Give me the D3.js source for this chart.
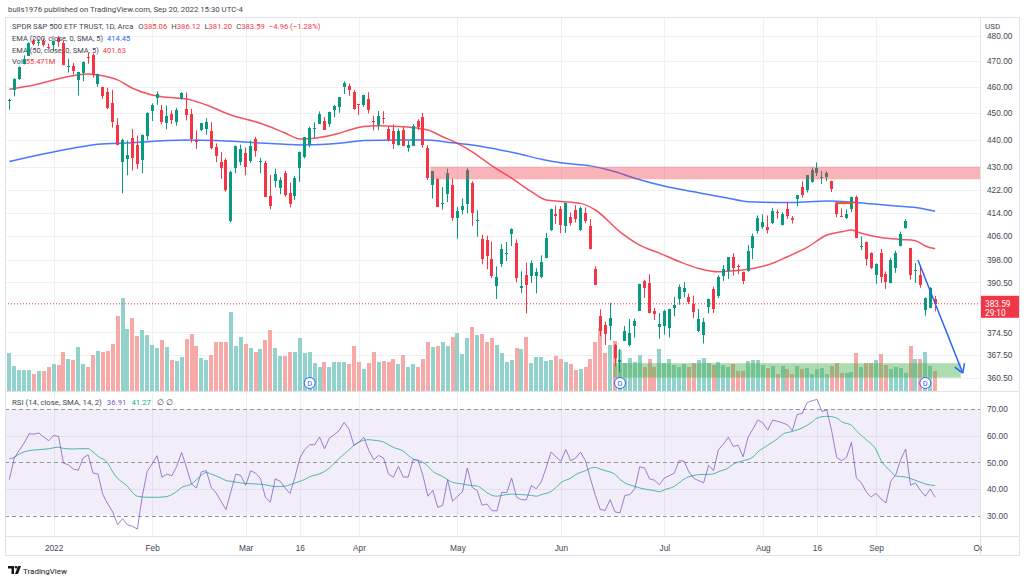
<!DOCTYPE html>
<html><head><meta charset="utf-8">
<script src="https://cdn.jsdelivr.net/npm/d3@7"></script>
<style>
body{margin:0;background:#fff;}
svg{display:block;font-family:Roboto,"Liberation Sans",Arial,sans-serif;}
</style></head>
<body><svg id="c" width="1024" height="580"></svg>
<script>
// ---------------- DATA ----------------
const dates = ["2021-12-20","2021-12-21","2021-12-22","2021-12-23","2021-12-27","2021-12-28","2021-12-29","2021-12-30","2021-12-31",
"2022-01-03","2022-01-04","2022-01-05","2022-01-06","2022-01-07","2022-01-10","2022-01-11","2022-01-12","2022-01-13","2022-01-14","2022-01-18","2022-01-19","2022-01-20","2022-01-21","2022-01-24","2022-01-25","2022-01-26","2022-01-27","2022-01-28","2022-01-31",
"2022-02-01","2022-02-02","2022-02-03","2022-02-04","2022-02-07","2022-02-08","2022-02-09","2022-02-10","2022-02-11","2022-02-14","2022-02-15","2022-02-16","2022-02-17","2022-02-18","2022-02-22","2022-02-23","2022-02-24","2022-02-25","2022-02-28",
"2022-03-01","2022-03-02","2022-03-03","2022-03-04","2022-03-07","2022-03-08","2022-03-09","2022-03-10","2022-03-11","2022-03-14","2022-03-15","2022-03-16","2022-03-17","2022-03-18","2022-03-21","2022-03-22","2022-03-23","2022-03-24","2022-03-25","2022-03-28","2022-03-29","2022-03-30","2022-03-31",
"2022-04-01","2022-04-04","2022-04-05","2022-04-06","2022-04-07","2022-04-08","2022-04-11","2022-04-12","2022-04-13","2022-04-14","2022-04-18","2022-04-19","2022-04-20","2022-04-21","2022-04-22","2022-04-25","2022-04-26","2022-04-27","2022-04-28","2022-04-29",
"2022-05-02","2022-05-03","2022-05-04","2022-05-05","2022-05-06","2022-05-09","2022-05-10","2022-05-11","2022-05-12","2022-05-13","2022-05-16","2022-05-17","2022-05-18","2022-05-19","2022-05-20","2022-05-23","2022-05-24","2022-05-25","2022-05-26","2022-05-27","2022-05-31",
"2022-06-01","2022-06-02","2022-06-03","2022-06-06","2022-06-07","2022-06-08","2022-06-09","2022-06-10","2022-06-13","2022-06-14","2022-06-15","2022-06-16","2022-06-17","2022-06-21","2022-06-22","2022-06-23","2022-06-24","2022-06-27","2022-06-28","2022-06-29","2022-06-30",
"2022-07-01","2022-07-05","2022-07-06","2022-07-07","2022-07-08","2022-07-11","2022-07-12","2022-07-13","2022-07-14","2022-07-15","2022-07-18","2022-07-19","2022-07-20","2022-07-21","2022-07-22","2022-07-25","2022-07-26","2022-07-27","2022-07-28","2022-07-29",
"2022-08-01","2022-08-02","2022-08-03","2022-08-04","2022-08-05","2022-08-08","2022-08-09","2022-08-10","2022-08-11","2022-08-12","2022-08-15","2022-08-16","2022-08-17","2022-08-18","2022-08-19","2022-08-22","2022-08-23","2022-08-24","2022-08-25","2022-08-26","2022-08-29","2022-08-30","2022-08-31",
"2022-09-01","2022-09-02","2022-09-06","2022-09-07","2022-09-08","2022-09-09","2022-09-12","2022-09-13","2022-09-14","2022-09-15","2022-09-16","2022-09-19","2022-09-20"];
const futureDates = ["2022-09-21","2022-09-22","2022-09-23","2022-09-26","2022-09-27","2022-09-28","2022-09-29","2022-09-30","2022-10-03","2022-10-04"];

const open = [454.48,458.61,462.79,468.75,472.06,477.72,476.98,477.93,475.64,
476.30,479.22,477.16,467.89,467.95,462.70,465.23,471.59,472.19,461.19,459.74,458.13,453.75,445.56,432.03,433.06,440.72,438.26,432.68,441.24,
450.68,455.50,450.95,446.35,449.51,446.73,455.22,451.34,449.41,439.92,443.73,443.93,443.22,437.33,431.89,432.66,411.02,429.61,432.03,
435.04,432.37,440.47,431.75,431.55,419.62,425.14,422.52,428.12,420.89,419.77,429.89,433.59,438.00,444.34,445.86,446.91,445.94,451.16,452.06,460.02,460.34,457.89,
453.31,453.13,455.22,446.89,445.59,447.97,444.11,443.08,438.03,443.55,436.81,437.86,446.92,448.54,436.91,423.67,425.83,417.24,420.39,423.59,
412.07,415.01,417.08,424.55,411.10,405.10,404.49,398.07,389.37,396.71,399.98,406.53,403.50,388.62,392.83,392.56,392.56,392.31,398.67,407.91,413.55,
415.17,409.42,412.40,414.78,408.10,413.93,409.34,394.88,379.85,376.85,376.58,370.51,365.51,371.89,370.62,376.64,381.40,391.05,390.23,381.23,376.24,
376.56,375.88,382.11,385.12,387.27,385.85,383.65,375.10,373.61,382.55,388.38,386.08,392.47,394.16,398.92,395.75,393.84,394.36,401.89,407.58,
409.15,409.12,410.30,414.37,409.66,415.25,412.22,418.78,422.99,422.03,424.77,428.04,425.98,426.36,424.98,417.05,412.90,412.10,415.24,419.39,402.20,403.85,400.13,
392.89,400.28,393.13,390.37,395.31,402.74,408.78,401.83,394.47,392.96,381.70,382.26,385.06];
const high = [455.40,463.21,467.81,472.19,477.31,478.81,478.56,479.00,476.86,
477.85,479.98,477.98,470.82,469.20,465.74,469.85,473.20,472.88,465.09,459.96,459.61,458.74,448.06,440.38,439.72,444.04,441.59,442.00,450.28,
453.63,458.12,452.97,452.78,450.99,451.92,457.88,457.71,451.61,443.50,446.28,448.06,446.57,438.66,435.50,433.26,428.76,437.84,438.20,
437.17,439.72,441.11,433.37,432.30,427.21,429.51,426.43,428.77,424.55,426.84,435.68,441.07,444.86,446.46,450.58,448.49,450.50,452.98,455.91,462.07,461.20,458.76,
453.46,456.91,457.83,448.93,450.69,450.63,445.00,445.75,444.11,444.73,439.75,445.80,447.57,450.01,438.08,428.69,426.04,422.92,429.50,425.87,
415.92,418.93,429.66,425.00,414.80,406.41,406.08,404.04,395.80,403.18,403.97,408.57,404.80,394.14,397.03,397.73,395.15,399.45,407.04,415.38,416.46,
416.24,417.44,414.04,416.61,416.22,415.82,411.74,395.78,381.81,377.94,383.90,370.94,369.38,376.53,378.72,378.83,390.09,391.36,393.16,382.27,380.66,
381.70,381.98,385.87,389.83,390.64,386.87,386.16,381.92,379.05,385.25,389.09,392.87,396.26,398.84,400.18,396.47,394.06,402.88,406.80,413.03,
413.41,413.00,415.68,415.09,414.15,417.62,412.75,420.11,424.96,427.21,429.96,431.73,428.66,428.54,425.26,417.62,415.42,415.11,419.56,419.96,405.84,404.10,400.48,
396.78,401.56,394.12,398.59,401.00,407.51,411.73,401.99,396.90,395.96,385.62,388.96,386.12];
const low = [451.14,456.31,462.58,468.64,472.01,476.06,475.92,475.67,474.67,
473.85,475.58,468.28,465.43,464.65,456.60,462.05,468.94,463.44,459.90,455.31,451.46,444.50,437.95,420.76,427.15,428.86,429.45,427.82,439.81,
446.94,453.05,445.71,443.83,445.85,445.22,455.01,447.20,438.94,436.72,443.18,441.94,436.42,431.82,425.86,421.35,410.64,427.86,430.70,
427.11,431.57,433.80,427.88,419.36,415.12,422.82,420.44,419.53,415.79,418.42,424.80,433.19,437.22,440.68,445.86,443.71,444.76,448.43,450.06,457.18,456.47,451.16,
449.14,452.26,449.82,443.47,443.53,445.94,439.39,436.65,437.84,437.68,435.61,437.68,443.48,437.10,425.44,418.84,416.07,415.01,417.60,411.21,
405.02,413.36,413.71,409.44,405.73,396.50,394.82,391.96,385.15,395.61,397.60,402.58,390.55,387.11,380.54,390.38,386.96,391.89,398.45,407.70,410.03,
406.93,407.04,409.51,410.55,407.61,410.38,401.44,389.75,373.30,370.59,372.12,364.08,362.17,371.81,370.18,372.89,381.37,385.45,380.53,378.42,372.56,
373.80,372.90,379.60,383.27,385.66,383.50,378.99,374.66,371.04,380.54,380.66,385.39,391.03,391.63,392.75,393.21,389.95,394.05,398.15,406.77,
408.40,406.82,410.00,411.86,409.60,411.83,410.22,416.16,419.21,421.03,424.50,426.88,424.07,425.02,421.22,412.40,412.42,411.77,414.09,405.25,401.20,396.00,394.89,
390.04,390.33,388.42,390.20,393.64,402.46,408.46,391.38,390.38,388.78,379.80,382.18,381.20];
const close = [454.98,463.06,467.69,470.60,477.26,476.87,477.48,476.16,474.96,
477.71,477.55,468.38,467.94,466.09,465.51,469.75,471.02,464.53,464.72,456.49,451.75,446.75,437.98,439.84,434.47,433.38,431.24,441.95,449.91,
452.95,457.35,446.60,448.70,447.26,450.94,457.54,449.32,440.46,439.02,446.10,446.60,437.06,434.23,429.57,421.95,428.30,437.75,436.63,
429.98,437.89,435.71,432.17,419.43,416.25,427.41,425.48,420.07,417.00,426.17,435.62,441.07,444.52,444.39,449.59,443.80,450.49,452.69,455.91,461.55,458.70,451.64,
452.92,456.80,451.03,446.52,448.77,447.57,439.92,438.29,443.31,437.79,437.97,445.04,444.71,438.06,426.04,428.51,416.10,417.27,427.81,412.00,
414.48,416.38,429.06,413.81,411.34,398.17,399.09,392.75,392.34,401.72,400.09,408.32,391.86,389.46,389.63,396.92,393.89,397.37,405.31,415.26,412.93,
409.59,417.39,410.54,411.79,415.74,411.22,401.44,389.80,375.00,373.87,379.20,366.65,365.86,375.07,374.39,378.06,390.08,388.59,380.65,380.34,377.25,
381.24,381.96,383.25,388.99,388.67,384.23,380.83,378.83,377.91,385.13,381.95,392.27,394.77,398.79,395.09,395.57,390.89,401.04,406.07,411.99,
410.77,408.06,414.45,414.17,413.47,412.99,411.35,419.99,419.99,427.10,428.86,429.70,426.65,427.89,422.14,413.35,412.35,413.67,419.51,405.31,402.63,398.21,395.18,
396.42,392.24,390.76,397.78,400.38,406.60,410.97,393.10,394.60,389.80,385.56,388.55,383.59];
// volume, millions of shares
const volume = [104,69,58,56,56,47,54,55,65,
72.7,71.2,104.5,86.9,85.1,119.4,74.3,64.3,97.4,109.3,105.0,109.0,126.0,202.3,251.8,167.0,197.2,149.9,164.7,152.2,
123.2,117.4,137.3,118.0,84.6,81.9,92.6,140.1,153.2,123.0,88.5,84.6,98.2,132.6,133.6,132.6,213.9,121.9,145.6,
127.8,117.7,105.3,113.8,137.9,166.5,116.5,93.5,95.6,105.3,106.2,144.7,102.7,106.3,74.6,64.7,79.3,64.3,77.4,77.2,79.7,71.9,121.7,
77.4,59.6,75.8,106.1,79.1,80.4,77.3,85.8,74.1,97.9,66.0,73.3,66.0,85.4,132.5,119.6,122.8,132.1,122.0,146.0,
158.3,100.0,144.2,172.9,151.8,155.6,132.5,142.4,125.1,104.2,78.6,83.0,117.7,114.0,146.4,77.0,91.4,91.5,82.2,84.7,95.9,
86.6,79.6,71.9,57.5,59.3,64.3,86.3,132.4,170.0,104.1,125.7,134.1,111.1,76.8,90.1,79.3,98.0,64.0,86.5,65.7,112.5,
75.8,87.6,70.4,64.1,72.4,64.1,76.6,84.2,89.7,75.0,70.5,78.5,71.3,64.9,73.4,53.6,52.9,82.3,84.0,85.2,
69.6,62.3,67.8,45.6,68.0,59.3,44.9,68.7,59.0,61.4,47.3,59.3,63.6,45.9,68.0,76.1,49.1,49.2,50.5,102.8,65.0,75.0,76.0,
84.1,99.0,69.4,60.5,65.7,61.1,48.1,122.5,87.6,87.6,104.6,68.0,55.471];
const rsi = [43.5,51.6,54.5,57.2,60.7,60.6,61,59.5,58.1,
60.1,59.7,49.7,49.1,47.5,47,51.6,52.9,46,45.6,37.9,34.4,31.4,26.6,28.9,26.6,26,25,37.3,46.6,
49.4,52.5,44.4,45.6,45,48.5,53.7,47.9,41.9,40.4,46.4,46.9,40.6,38.5,35.4,32.3,39.1,45.6,45.1,
41.4,46.8,46,43.9,36.9,35.1,43.8,42.9,40.4,38.3,44.4,51.6,54.8,56.6,56.6,59.5,55.1,59.1,60.4,62,65,62.3,56.3,
57.6,59.4,54.4,51,52.6,51.6,45.6,44.4,48.5,44.5,44.5,51,50.8,45,37.3,39.5,33.1,33.9,43.5,35.4,
37.3,38.9,47.9,40.6,39.4,33.9,34.4,31.9,31.8,38.8,38.6,44.1,36.9,36,36,41.3,40.1,42.6,47.9,53.9,52.1,
50.4,54.8,50.6,51.6,53.8,50.6,43.9,37.6,32.3,32,36,31.4,31.1,37.6,37.9,40.1,48.3,47.9,43.8,43.3,41.6,
44.1,45,45.9,50.6,50.5,46.4,44,43.1,42.4,48.9,46.9,54.8,56.8,59.4,56,56.4,52.1,59.4,62.5,65.9,
64.8,62.1,65.8,65.4,64.8,64.1,61.9,68,68.3,72.4,73.1,73.6,69.1,69.6,61.6,51.9,50.6,51.9,57.5,44.1,42.4,38.9,37,
38.4,36.3,34.8,42.9,45.4,51,55,41.4,42.3,39.5,37.3,40,36.91];
// RSI-based MA (SMA 14), read at points
const rsiMa = [["2021-12-20",51.3],["2021-12-21",51.9],["2021-12-22",53.1],["2021-12-27",54.4],["2021-12-29",54.75],["2021-12-31",55.1],["2022-01-04",55.7],["2022-01-05",55.2],["2022-01-07",55.0],["2022-01-10",55.1],["2022-01-12",55.1],["2022-01-13",53.9],["2022-01-14",52.3],["2022-01-19",49.7],["2022-01-20",46.4],["2022-01-21",44.0],["2022-01-25",41.0],["2022-01-26",38.7],["2022-01-27",37.3],["2022-01-31",36.9],["2022-02-02",36.9],["2022-02-04",37.2],["2022-02-08",39.1],["2022-02-09",40.6],["2022-02-11",41.9],["2022-02-14",43.5],["2022-02-15",45.1],["2022-02-16",46.2],["2022-02-17",45.6],["2022-02-22",44.1],["2022-02-23",43.2],["2022-02-24",42.9],["2022-02-28",42.3],["2022-03-01",42.1],["2022-03-03",41.9],["2022-03-07",41.6],["2022-03-09",40.9],["2022-03-11",41.1],["2022-03-14",41.6],["2022-03-16",42.9],["2022-03-17",43.6],["2022-03-18",44.6],["2022-03-22",45.7],["2022-03-23",46.6],["2022-03-24",47.9],["2022-03-25",49.7],["2022-03-28",51.5],["2022-03-30",54.7],["2022-03-31",56.4],["2022-04-01",57.6],["2022-04-05",58.5],["2022-04-06",58.3],["2022-04-08",57.6],["2022-04-11",56.6],["2022-04-12",55.6],["2022-04-14",54.2],["2022-04-18",52.6],["2022-04-19",51.3],["2022-04-21",50.0],["2022-04-22",48.5],["2022-04-25",46.6],["2022-04-27",44.7],["2022-04-28",43.5],["2022-04-29",42.5],["2022-05-03",41.9],["2022-05-04",41.5],["2022-05-06",41.1],["2022-05-09",40.1],["2022-05-10",38.6],["2022-05-12",37.3],["2022-05-13",37.6],["2022-05-17",38.1],["2022-05-19",37.9],["2022-05-23",37.6],["2022-05-24",37.3],["2022-05-25",37.9],["2022-05-27",39.1],["2022-05-31",40.6],["2022-06-01",42.4],["2022-06-03",44.1],["2022-06-06",45.4],["2022-06-08",46.9],["2022-06-09",47.8],["2022-06-10",48.1],["2022-06-13",47.5],["2022-06-14",46.9],["2022-06-16",45.5],["2022-06-17",43.6],["2022-06-21",42.3],["2022-06-23",41.0],["2022-06-24",40.4],["2022-06-27",40.0],["2022-06-29",39.4],["2022-06-30",39.0],["2022-07-01",39.7],["2022-07-06",41.0],["2022-07-07",42.3],["2022-07-08",43.7],["2022-07-12",45.1],["2022-07-13",45.4],["2022-07-15",45.5],["2022-07-18",45.7],["2022-07-19",46.5],["2022-07-21",47.9],["2022-07-22",49.3],["2022-07-25",50.1],["2022-07-26",50.6],["2022-07-28",52.0],["2022-07-29",53.9],["2022-08-02",56.4],["2022-08-04",58.9],["2022-08-05",60.5],["2022-08-09",61.6],["2022-08-11",62.9],["2022-08-15",65.1],["2022-08-16",66.6],["2022-08-18",67.25],["2022-08-22",66.6],["2022-08-23",65.2],["2022-08-25",63.9],["2022-08-26",61.8],["2022-08-30",58.5],["2022-09-01",54.7],["2022-09-02",50.8],["2022-09-07",46.6],["2022-09-08",44.9],["2022-09-12",44.5],["2022-09-13",43.9],["2022-09-15",42.6],["2022-09-16",41.9],["2022-09-20",41.27]];
// EMA lines read at points
const ema200 = [["2021-12-20",432.1],["2021-12-28",434.1],["2022-01-06",436.6],["2022-01-14",438.4],["2022-01-26",438.9],["2022-02-04",439.7],["2022-02-10",439.9],["2022-02-18",439.7],["2022-03-03",438.9],["2022-03-11",438.4],["2022-03-17",438.1],["2022-03-28",438.7],["2022-04-04",439.7],["2022-04-13",439.9],["2022-04-22",439.9],["2022-04-29",438.9],["2022-05-05",438.1],["2022-05-12",436.5],["2022-05-18",435.1],["2022-05-25",432.9],["2022-06-01",431.6],["2022-06-09",430.5],["2022-06-16",428.4],["2022-06-23",426.1],["2022-07-05",422.9],["2022-07-12",421.3],["2022-07-21",419.0],["2022-07-27",417.8],["2022-08-09",417.5],["2022-08-18",418.0],["2022-08-24",417.8],["2022-08-30",417.2],["2022-09-08",416.3],["2022-09-15",415.5],["2022-09-20",414.45]];
const ema50 = [["2021-12-20",459.0],["2021-12-28",460.6],["2022-01-06",463.9],["2022-01-12",464.9],["2022-01-14",464.5],["2022-01-21",462.6],["2022-01-26",459.4],["2022-02-01",456.8],["2022-02-04",455.9],["2022-02-10",455.3],["2022-02-16",453.0],["2022-02-24",449.2],["2022-03-04",446.1],["2022-03-11",442.5],["2022-03-16",440.3],["2022-03-21",440.6],["2022-03-28",442.4],["2022-03-30",443.6],["2022-04-04",444.9],["2022-04-07",445.2],["2022-04-13",444.9],["2022-04-20",444.3],["2022-04-22",443.6],["2022-04-27",441.1],["2022-05-02",438.7],["2022-05-05",435.6],["2022-05-11",430.5],["2022-05-17",426.1],["2022-05-23",421.3],["2022-05-26",418.4],["2022-06-01",417.9],["2022-06-07",417.2],["2022-06-10",414.9],["2022-06-17",407.4],["2022-06-24",402.9],["2022-06-30",400.2],["2022-07-07",397.4],["2022-07-13",395.1],["2022-07-19",394.0],["2022-07-22",394.3],["2022-07-27",394.8],["2022-08-03",396.8],["2022-08-08",399.0],["2022-08-12",402.1],["2022-08-18",406.3],["2022-08-23",407.4],["2022-08-25",408.0],["2022-08-29",406.9],["2022-09-02",405.5],["2022-09-09",404.8],["2022-09-14",404.4],["2022-09-16",402.6],["2022-09-20",401.63]];
const priceTicks = [480,470,460,450,440,430,422,414,406,398,390.5,374.5,367.5,360.5];
const rsiTicks = [70,60,50,40,30];
const timeTicks = [["2022-01-03","2022"],["2022-02-01","Feb"],["2022-03-01","Mar"],["2022-03-16","16"],["2022-04-01","Apr"],["2022-05-02","May"],["2022-06-01","Jun"],["2022-07-01","Jul"],["2022-08-01","Aug"],["2022-08-16","16"],["2022-09-01","Sep"],["2022-10-03","Oct"]];
const dividends = ["2022-03-18","2022-06-17","2022-09-16"];
// drawings (bar position, price)
const resistanceZone = {startBar:85.5, top:430.2, bottom:425.7};
const supportZone = {startBar:122.6, endBar:193.2, top:365.0, bottom:360.6};
const gapLine = {startBar:167.7, endBar:171.3, price:417.3};
const arrow = {startBar:184.5, startPrice:397.9, endBar:193.6, endPrice:362.0};

// ---------------- LAYOUT ----------------
const L=5, R=980, FR=1020, PT=17, PB=391, RT=392, RB=536, XB=556;
const UP="#089981", DN="#f23645", VUP="#92d2cc", VDN="#f7a9a7";
const svg = d3.select("#c");
const allDates = dates.concat(futureDates);
const di = new Map(allDates.map((d,i)=>[d,i]));
const x = d3.scaleLinear().domain([0,197]).range([9.3,979.5]);
const y = d3.scaleLog().domain([487.6,356.6]).range([PT,PB]);
const yr = d3.scaleLinear().domain([70,30]).range([409,515.7]);
const yv = d3.scaleLinear().domain([0,251.8]).range([PB,298]);
const bars = dates.map((d,i)=>({d,i,o:open[i],h:high[i],l:low[i],c:close[i],v:volume[i]}));
const N = bars.length, last = bars[N-1];

const defs = svg.append("defs");
defs.append("clipPath").attr("id","cp").append("rect").attr("x",L).attr("y",PT).attr("width",R-L).attr("height",PB-PT);
defs.append("clipPath").attr("id","cr").append("rect").attr("x",L).attr("y",RT).attr("width",R-L).attr("height",RB-RT);
defs.append("clipPath").attr("id","cx").append("rect").attr("x",L).attr("y",RB).attr("width",R-L+2).attr("height",XB-RB);

svg.append("rect").attr("width",1024).attr("height",580).attr("fill","#fff");

// grid
const grid = svg.append("g").attr("stroke","#eef0f4").attr("stroke-width",1).attr("shape-rendering","crispEdges");
timeTicks.forEach(([d])=>{const xx=Math.round(x(di.get(d)))+0.5; if(xx<R) grid.append("line").attr("x1",xx).attr("x2",xx).attr("y1",PT).attr("y2",RB);});
priceTicks.forEach(p=>{const yy=Math.round(y(p))+0.5; grid.append("line").attr("x1",L).attr("x2",R).attr("y1",yy).attr("y2",yy);});
[60,40].forEach(v=>{const yy=Math.round(yr(v))+0.5; grid.append("line").attr("x1",L).attr("x2",R).attr("y1",yy).attr("y2",yy);});

// ---- price pane ----
const pane = svg.append("g").attr("clip-path","url(#cp)");
pane.append("g").attr("shape-rendering","crispEdges").selectAll("rect").data(bars).join("rect")
  .attr("x",b=>Math.round(x(b.i)-2)).attr("width",4)
  .attr("y",b=>yv(b.v)).attr("height",b=>PB-yv(b.v))
  .attr("fill",b=>b.c>=b.o?VUP:VDN);
pane.append("rect").attr("x",x(supportZone.startBar)).attr("width",x(supportZone.endBar)-x(supportZone.startBar))
  .attr("y",y(supportZone.top)).attr("height",y(supportZone.bottom)-y(supportZone.top))
  .attr("fill","rgba(76,175,80,0.45)");
const eline = d3.line().x(d=>x(di.get(d[0]))).y(d=>y(d[1])).curve(d3.curveMonotoneX);
pane.append("path").attr("d",eline(ema200)).attr("fill","none").attr("stroke","#2962ff").attr("stroke-width",1.5).attr("stroke-opacity",0.85);
pane.append("path").attr("d",eline(ema50)).attr("fill","none").attr("stroke","#f23645").attr("stroke-width",1.5).attr("stroke-opacity",0.85);
const cg = pane.append("g");
cg.selectAll("line").data(bars).join("line")
  .attr("x1",b=>Math.round(x(b.i)-1.5)+1.5).attr("x2",b=>Math.round(x(b.i)-1.5)+1.5)
  .attr("y1",b=>y(b.h)).attr("y2",b=>y(b.l))
  .attr("stroke",b=>b.c>=b.o?UP:DN).attr("stroke-width",1);
cg.selectAll("rect").data(bars).join("rect").attr("shape-rendering","crispEdges")
  .attr("x",b=>Math.round(x(b.i)-1.5)).attr("width",3)
  .attr("y",b=>y(Math.max(b.o,b.c))).attr("height",b=>Math.max(1,Math.abs(y(b.o)-y(b.c))))
  .attr("fill",b=>b.c>=b.o?UP:DN);
pane.append("rect").attr("x",x(resistanceZone.startBar)).attr("width",R-x(resistanceZone.startBar))
  .attr("y",y(resistanceZone.top)).attr("height",y(resistanceZone.bottom)-y(resistanceZone.top))
  .attr("fill","rgba(242,54,69,0.38)");
pane.append("line").attr("x1",x(gapLine.startBar)).attr("x2",x(gapLine.endBar)).attr("y1",y(gapLine.price)).attr("y2",y(gapLine.price))
  .attr("stroke","#f4511e").attr("stroke-width",2);
const ax1=x(arrow.startBar), ay1=y(arrow.startPrice), ax2=x(arrow.endBar), ay2=y(arrow.endPrice);
pane.append("line").attr("x1",ax1).attr("y1",ay1).attr("x2",ax2).attr("y2",ay2).attr("stroke","#2962ff").attr("stroke-width",1.5);
const ang=Math.atan2(ay2-ay1,ax2-ax1);
[-0.55,0.55].forEach(a=>{const t=ang+Math.PI+a; pane.append("line").attr("x1",ax2).attr("y1",ay2)
  .attr("x2",ax2+10*Math.cos(t)).attr("y2",ay2+10*Math.sin(t)).attr("stroke","#2962ff").attr("stroke-width",1.5);});
pane.append("line").attr("x1",L).attr("x2",R).attr("y1",y(last.c)).attr("y2",y(last.c))
  .attr("stroke",DN).attr("stroke-width",1).attr("stroke-dasharray","1,2");
dividends.forEach(d=>{const g=pane.append("g").attr("transform",`translate(${x(di.get(d))},383)`);
  g.append("circle").attr("r",5.5).attr("fill","#fff").attr("stroke","#2962ff").attr("stroke-width",1);
  g.append("text").attr("y",3).attr("text-anchor","middle").attr("font-size",7.5).attr("fill","#2962ff").text("D");});

// ---- RSI pane ----
const rp = svg.append("g").attr("clip-path","url(#cr)");
rp.append("rect").attr("x",L).attr("width",R-L).attr("y",yr(70)).attr("height",yr(30)-yr(70)).attr("fill","rgba(126,87,194,0.1)");
[70,50,30].forEach(v=>rp.append("line").attr("x1",L).attr("x2",R).attr("y1",Math.round(yr(v))+0.5).attr("y2",Math.round(yr(v))+0.5)
  .attr("stroke","#9598a1").attr("stroke-dasharray","4,3").attr("stroke-width",1));
rp.append("path").attr("d",d3.line().x(d=>x(di.get(d[0]))).y(d=>yr(d[1])).curve(d3.curveMonotoneX)(rsiMa))
  .attr("fill","none").attr("stroke","#26a69a").attr("stroke-width",1).attr("stroke-opacity",0.8);
rp.append("path").attr("d",d3.line().x((d,i)=>x(i)).y(d=>yr(d))(rsi))
  .attr("fill","none").attr("stroke","#7e57c2").attr("stroke-width",1).attr("stroke-opacity",0.75);

// ---- frame ----
const fr = svg.append("g").attr("stroke","#e0e3eb").attr("fill","none").attr("shape-rendering","crispEdges");
fr.append("rect").attr("x",L+0.5).attr("y",PT+0.5).attr("width",FR-L-1).attr("height",XB-PT-1);
fr.append("line").attr("x1",L).attr("x2",FR).attr("y1",PB+0.5).attr("y2",PB+0.5);
fr.append("line").attr("x1",L).attr("x2",FR).attr("y1",RB+0.5).attr("y2",RB+0.5);
fr.append("line").attr("x1",R+0.5).attr("x2",R+0.5).attr("y1",PT).attr("y2",XB);

// ---- axes ----
const fmt = d3.format(".2f");
const pa = svg.append("g").attr("transform",`translate(${R+4},0)`)
  .call(d3.axisRight(y).tickValues(priceTicks).tickFormat(fmt).tickSize(0));
pa.select(".domain").remove();
pa.selectAll("text").attr("font-size",8.3).attr("fill","#434651").attr("font-family",null);
svg.append("rect").attr("x",R+2).attr("y",PT+1).attr("width",FR-R-3).attr("height",15).attr("fill","#fff");
svg.append("text").attr("x",R+5).attr("y",29).attr("font-size",8).attr("fill","#434651").text("USD");
const ra = svg.append("g").attr("transform",`translate(${R+4},0)`)
  .call(d3.axisRight(yr).tickValues(rsiTicks).tickFormat(fmt).tickSize(0));
ra.select(".domain").remove();
ra.selectAll("text").attr("font-size",8.3).attr("fill","#434651").attr("font-family",null);
const ly=y(last.c);
svg.append("rect").attr("x",R+1).attr("y",ly-8).attr("width",FR-R-2).attr("height",22).attr("fill",DN);
svg.append("text").attr("x",R+5).attr("y",ly+3).attr("font-size",8.3).attr("fill","#fff").text(fmt(last.c));
svg.append("text").attr("x",R+5).attr("y",ly+12.5).attr("font-size",8.3).attr("fill","#fff").text("29:10");
const ta = svg.append("g").attr("clip-path","url(#cx)").append("g").attr("transform",`translate(0,${RB+6})`)
  .call(d3.axisBottom(x).tickValues(timeTicks.map(t=>di.get(t[0]))).tickFormat((d,i)=>timeTicks[i][1]).tickSize(0));
ta.select(".domain").remove();
ta.selectAll("text").attr("font-size",8.3).attr("fill","#434651").attr("font-family",null);

// ---- legends ----
const txt = "#434651", FS = 7.5;
svg.append("text").attr("x",8).attr("y",12).attr("font-size",7.8).attr("fill",txt).text("bulls1976 published on TradingView.com, Sep 20, 2022 15:30 UTC-4");
const prev = bars[N-2].c, chg = last.c-prev, pct = chg/prev*100;
const l1 = svg.append("text").attr("x",12).attr("y",29).attr("font-size",7.7).attr("fill",txt);
l1.append("tspan").text("SPDR S&P 500 ETF TRUST, 1D, Arca");
[["O",last.o],["H",last.h],["L",last.l],["C",last.c]].forEach(([k,v],j)=>{l1.append("tspan").attr("dx",j?4:5).text(k); l1.append("tspan").attr("fill",DN).text(fmt(v));});
l1.append("tspan").attr("dx",4).attr("fill",DN).text(`${fmt(chg).replace("-","−")} (${fmt(pct).replace("-","−")}%)`);
const l2 = svg.append("text").attr("x",12).attr("y",41).attr("font-size",FS).attr("fill",txt);
l2.append("tspan").text("EMA (200, close, 0, SMA, 5)"); l2.append("tspan").attr("dx",4).attr("fill","#2962ff").text(fmt(ema200[ema200.length-1][1]));
const l3 = svg.append("text").attr("x",12).attr("y",52.5).attr("font-size",FS).attr("fill",txt);
l3.append("tspan").text("EMA (50, close, 0, SMA, 5)"); l3.append("tspan").attr("dx",4).attr("fill",DN).text(fmt(ema50[ema50.length-1][1]));
const l4 = svg.append("text").attr("x",12).attr("y",64).attr("font-size",FS).attr("fill",txt);
l4.append("tspan").text("Vol"); l4.append("tspan").attr("dx",3).attr("fill",DN).text(d3.format(".3f")(last.v)+"M");
const l5 = svg.append("text").attr("x",12).attr("y",405).attr("font-size",7.8).attr("fill",txt);
l5.append("tspan").text("RSI (14, close, SMA, 14, 2)");
l5.append("tspan").attr("dx",5).attr("fill","#7e57c2").text(fmt(rsi[N-1]));
l5.append("tspan").attr("dx",5).attr("fill","#26a69a").text(fmt(rsiMa[rsiMa.length-1][1]));
l5.append("tspan").attr("dx",6).text("∅  ∅");

// logo
const lg = svg.append("g").attr("transform","translate(8,566)");
lg.append("path").attr("d","M0,0 H6 V8 H3.5 V2.5 H0 Z").attr("fill","#131722");
lg.append("circle").attr("cx",8).attr("cy",1.3).attr("r",1.3).attr("fill","#131722");
lg.append("path").attr("d","M7,8 L10,0 H13 L10,8 Z").attr("fill","#131722");
svg.append("text").attr("x",23).attr("y",573.5).attr("font-size",8).attr("fill","#131722").text("TradingView");
</script></body></html>
